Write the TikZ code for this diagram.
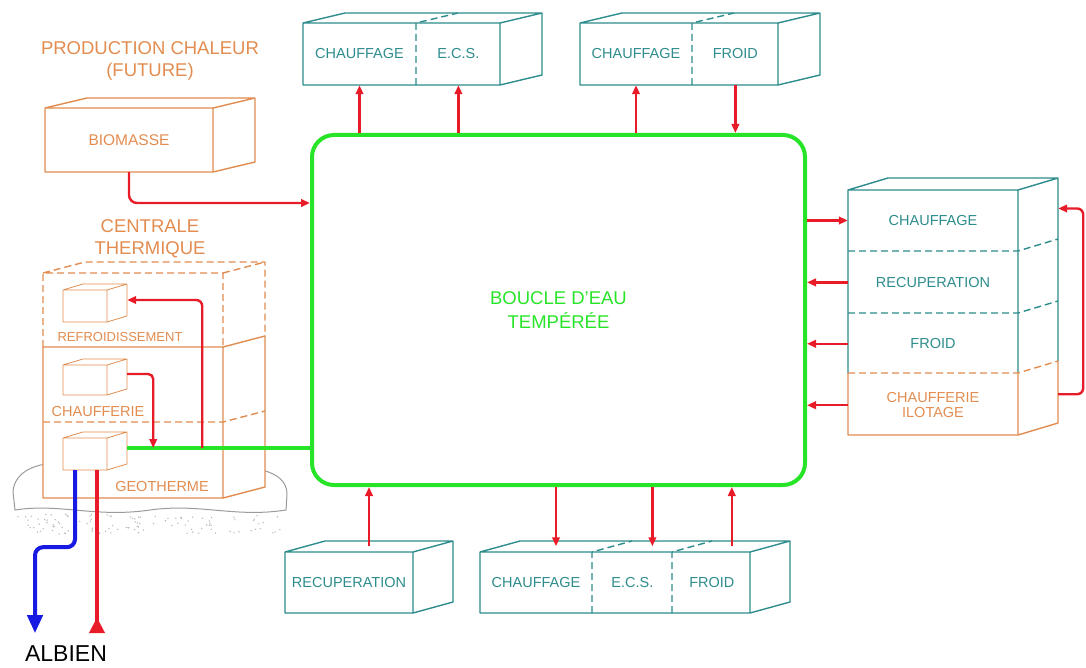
\documentclass[tikz,border=0pt]{standalone}
\usepackage{fontspec}
\setmainfont{Liberation Sans}
\usetikzlibrary{arrows.meta, positioning, calc}
\definecolor{cOrange}{RGB}{226,140,80}
\definecolor{cTeal}{RGB}{45,140,140}
\definecolor{cGreen}{RGB}{40,228,40}
\definecolor{cRed}{RGB}{232,28,40}
\definecolor{cBlue}{RGB}{25,25,228}
\definecolor{cGround}{RGB}{155,155,155}
\tikzset{
	cell/.style       ={rectangle, inner sep=0pt, align=center, font=\fontsize{14.5}{15}\selectfont},
	teal cell/.style  ={cell, text=cTeal},
	orange cell/.style={cell, text=cOrange},
	title/.style      ={align=center, text=cOrange, font=\fontsize{18.5}{22}\selectfont},
	loopbox/.style    ={rectangle, rounded corners=22pt, draw=cGreen, line width=4pt, text=cGreen, align=center, font=\fontsize{18.5}{24}\selectfont},
	sig/.style        ={-{Triangle[length=9pt,width=7.5pt]}, draw=cRed, line width=2.4pt},
	conduite/.style   ={draw=cGreen, line width=3.5pt},
	tuyau/.style      ={line width=4pt},
	boxline/.style    ={line width=1.4pt, line join=round},
	sep/.style        ={boxline, dash pattern=on 7pt off 4pt},
}
% 3D box: colour, front top-left, front bottom-right, depth
\newcommand{\caisse}[6]{%
	\draw[boxline, #1] (#2,#3) rectangle (#4,#5)
		(#2,#3) -- ++(#6) -- ($(#4,#3)+(#6)$) -- ($(#4,#5)+(#6)$) -- (#4,#5)
		(#4,#3) -- ++(#6);
}
\begin{document}
\begin{tikzpicture}[x=1pt, y=-1pt]
	\useasboundingbox (0,0) rectangle (1086,668);
	% ground under the plant
	\draw[cGround, line width=1pt] (60,463) .. controls (30,463) and (14,475) .. (13,492) -- (15,510)
		.. controls (60,503) and (95,518) .. (150,510) .. controls (200,503) and (235,518) .. (286,510)
		-- (287,494) .. controls (287,482) and (278,474) .. (262,470);
	\pgfmathsetseed{7}
	\foreach \i in {1,...,110}
		\fill[cGround!70] ({18+266*rnd},{514+20*rnd}) circle (0.8pt);
	% top consumers
	\caisse{cTeal}{303}{23}{500}{85}{42,-10}
	\draw[sep, cTeal] (416,85) -- (416,23) -- ++(42,-10);
	\node[teal cell, minimum width=113pt, minimum height=62pt] (hautChA) at (359.5,54) {CHAUFFAGE};
	\node[teal cell, minimum width=84pt, minimum height=62pt, right=0pt of hautChA] (hautEcs) {E.C.S.};
	\caisse{cTeal}{580}{23}{778}{85}{42,-10}
	\draw[sep, cTeal] (692,85) -- (692,23) -- ++(42,-10);
	\node[teal cell, minimum width=112pt, minimum height=62pt] (hautChB) at (636,54) {CHAUFFAGE};
	\node[teal cell, minimum width=86pt, minimum height=62pt, right=0pt of hautChB] (hautFroid) {FROID};
	% bottom consumers
	\caisse{cTeal}{285}{552}{413}{613}{40,-11}
	\node[teal cell, minimum width=128pt, minimum height=61pt] (basRecup) at (349,582.5) {RECUPERATION};
	\caisse{cTeal}{480}{552}{750}{613}{40,-11}
	\draw[sep, cTeal] (592,613) -- (592,552) -- ++(40,-11) (672,613) -- (672,552) -- ++(40,-11);
	\node[teal cell, minimum width=112pt, minimum height=61pt] (basCh) at (536,582.5) {CHAUFFAGE};
	\node[teal cell, minimum width=80pt, minimum height=61pt, right=0pt of basCh] (basEcs) {E.C.S.};
	\node[teal cell, minimum width=78pt, minimum height=61pt, right=0pt of basEcs] (basFroid) {FROID};
	% tower on the right
	\draw[boxline, cTeal] (848,373) -- (848,190) -- ++(40,-12) -- (1058,178) -- (1058,361)
		(848,190) -- (1018,190) -- (1018,373) (1018,190) -- (1058,178);
	\draw[sep, cTeal] (848,251) -- (1018,251) -- ++(40,-12) (848,313) -- (1018,313) -- ++(40,-12);
	\draw[boxline, cOrange] (848,373) -- (848,435) -- (1018,435) -- (1018,373) (1018,435) -- (1058,423) -- (1058,361);
	\draw[sep, cOrange] (848,373) -- (1018,373) -- ++(40,-12);
	\node[teal cell, minimum width=170pt, minimum height=61pt] (tourCh) at (933,220.5) {CHAUFFAGE};
	\node[teal cell, minimum width=170pt, minimum height=62pt, below=0pt of tourCh] (tourRecup) {RECUPERATION};
	\node[teal cell, minimum width=170pt, minimum height=60pt, below=0pt of tourRecup] (tourFroid) {FROID};
	\node[orange cell, minimum width=170pt, minimum height=62pt, below=0pt of tourFroid] (tourIlot) {CHAUFFERIE\\ILOTAGE};
	% future heat production
	\node[title] (titreProd) at (150,61) {PRODUCTION CHALEUR\\(FUTURE)};
	\caisse{cOrange}{45}{108}{213}{172}{42,-10}
	\node[orange cell, minimum width=168pt, minimum height=64pt, font=\fontsize{15.5}{17}\selectfont] (bio) at (129,140) {BIOMASSE};
	% central plant
	\node[title] (titreCentrale) at (150,239) {CENTRALE\\THERMIQUE};
	\fill[white] (43,273) -- (85,262) -- (265,262) -- (265,487) -- (223,498) -- (43,498) -- cycle;
	\draw[sep, cOrange] (43,347) -- (43,273) -- (223,273) -- (223,347)
		(43,273) -- ++(42,-11) -- (265,262) -- (265,336) (223,273) -- (265,262);
	\draw[boxline, cOrange] (43,347) -- (43,498) -- (223,498) -- (223,347) -- cycle
		(223,347) -- (265,336) -- (265,487) -- (223,498);
	\draw[sep, cOrange] (43,422) -- (223,422) -- (265,411);
	\caisse{cOrange, line width=0.8pt}{63}{290}{107}{322}{20,-6}
	\caisse{cOrange, line width=0.8pt}{63}{365}{107}{395}{20,-6}
	\caisse{cOrange, line width=0.8pt}{63}{438}{107}{470}{20,-6}
	\node[cell, minimum width=44pt, minimum height=32pt] (petitRef) at (85,306) {};
	\node[cell, minimum width=44pt, minimum height=30pt] (petitCh) at (85,380) {};
	\node[cell, minimum width=44pt, minimum height=32pt] (petitGeo) at (85,454) {};
	\node[orange cell, font=\fontsize{13}{15}\selectfont] (lblRef) at (120,337) {REFROIDISSEMENT};
	\node[orange cell] (lblCh) at (98,412) {CHAUFFERIE};
	\node[orange cell] (lblGeo) at (162,487) {GEOTHERME};
	% tempered water loop
	\node[loopbox, minimum width=493pt, minimum height=350pt] (boucle) at (558.5,310) {BOUCLE D'EAU\\TEMPÉRÉE};
	% connections to the loop
	\coordinate (geoSortie) at ($(petitGeo.east)+(20,-6)$);
	\draw[conduite] (geoSortie) -- (geoSortie -| boucle.west);
	\draw[sig, rounded corners=5pt] ($(petitCh.east)+(20,-6)$) -| ($(geoSortie)+(26,0)$);
	\draw[sig, rounded corners=6pt] ($(geoSortie)+(75,0)$) |- ($(petitRef.east)+(20,-6)$);
	\coordinate (entreeBio) at ($(boucle.north west)+(0,70)$);
	\draw[sig, rounded corners=8pt] (bio.south) |- (entreeBio);
	\foreach \n in {hautChA, hautEcs, hautChB}
		\draw[sig] (\n.south |- boucle.north) -- (\n.south);
	\draw[sig] (hautFroid.south) -- (hautFroid.south |- boucle.north);
	\coordinate (dessusRecup) at ($(basRecup.north)+(20,-5.5)$);
	\coordinate (dessusCh) at ($(basCh.north)+(20,-5.5)$);
	\coordinate (dessusEcs) at ($(basEcs.north)+(20,-5.5)$);
	\coordinate (dessusFroid) at ($(basFroid.north)+(20,-5.5)$);
	\draw[sig] (dessusRecup) -- (dessusRecup |- boucle.south);
	\draw[sig] (dessusFroid) -- (dessusFroid |- boucle.south);
	\draw[sig] (dessusCh |- boucle.south) -- (dessusCh);
	\draw[sig] (dessusEcs |- boucle.south) -- (dessusEcs);
	\draw[sig] (boucle.east |- tourCh.west) -- (tourCh.west);
	\foreach \n in {tourRecup, tourFroid, tourIlot}
		\draw[sig] (\n.west) -- (boucle.east |- \n.west);
	\draw[sig, rounded corners=6pt] ($(tourIlot.east)+(40,-11)$) -- ++(25,0) |- ($(tourCh.east)+(40,-12)$);
	% aquifer pipes
	\node[font=\fontsize{23}{25}\selectfont] (albien) at (66,654) {ALBIEN};
	\draw[tuyau, cBlue, rounded corners=8pt, -{Triangle[length=18pt,width=15pt]}] ($(petitGeo.south)+(-10,0)$) -- ++(0,77) -- ++(-40,0) -- ++(0,86);
	\draw[tuyau, cRed, -{Triangle[length=16pt,width=15pt,reversed]}] ($(petitGeo.south)+(12,0)$) -- ++(0,163);
\end{tikzpicture}
\end{document}
